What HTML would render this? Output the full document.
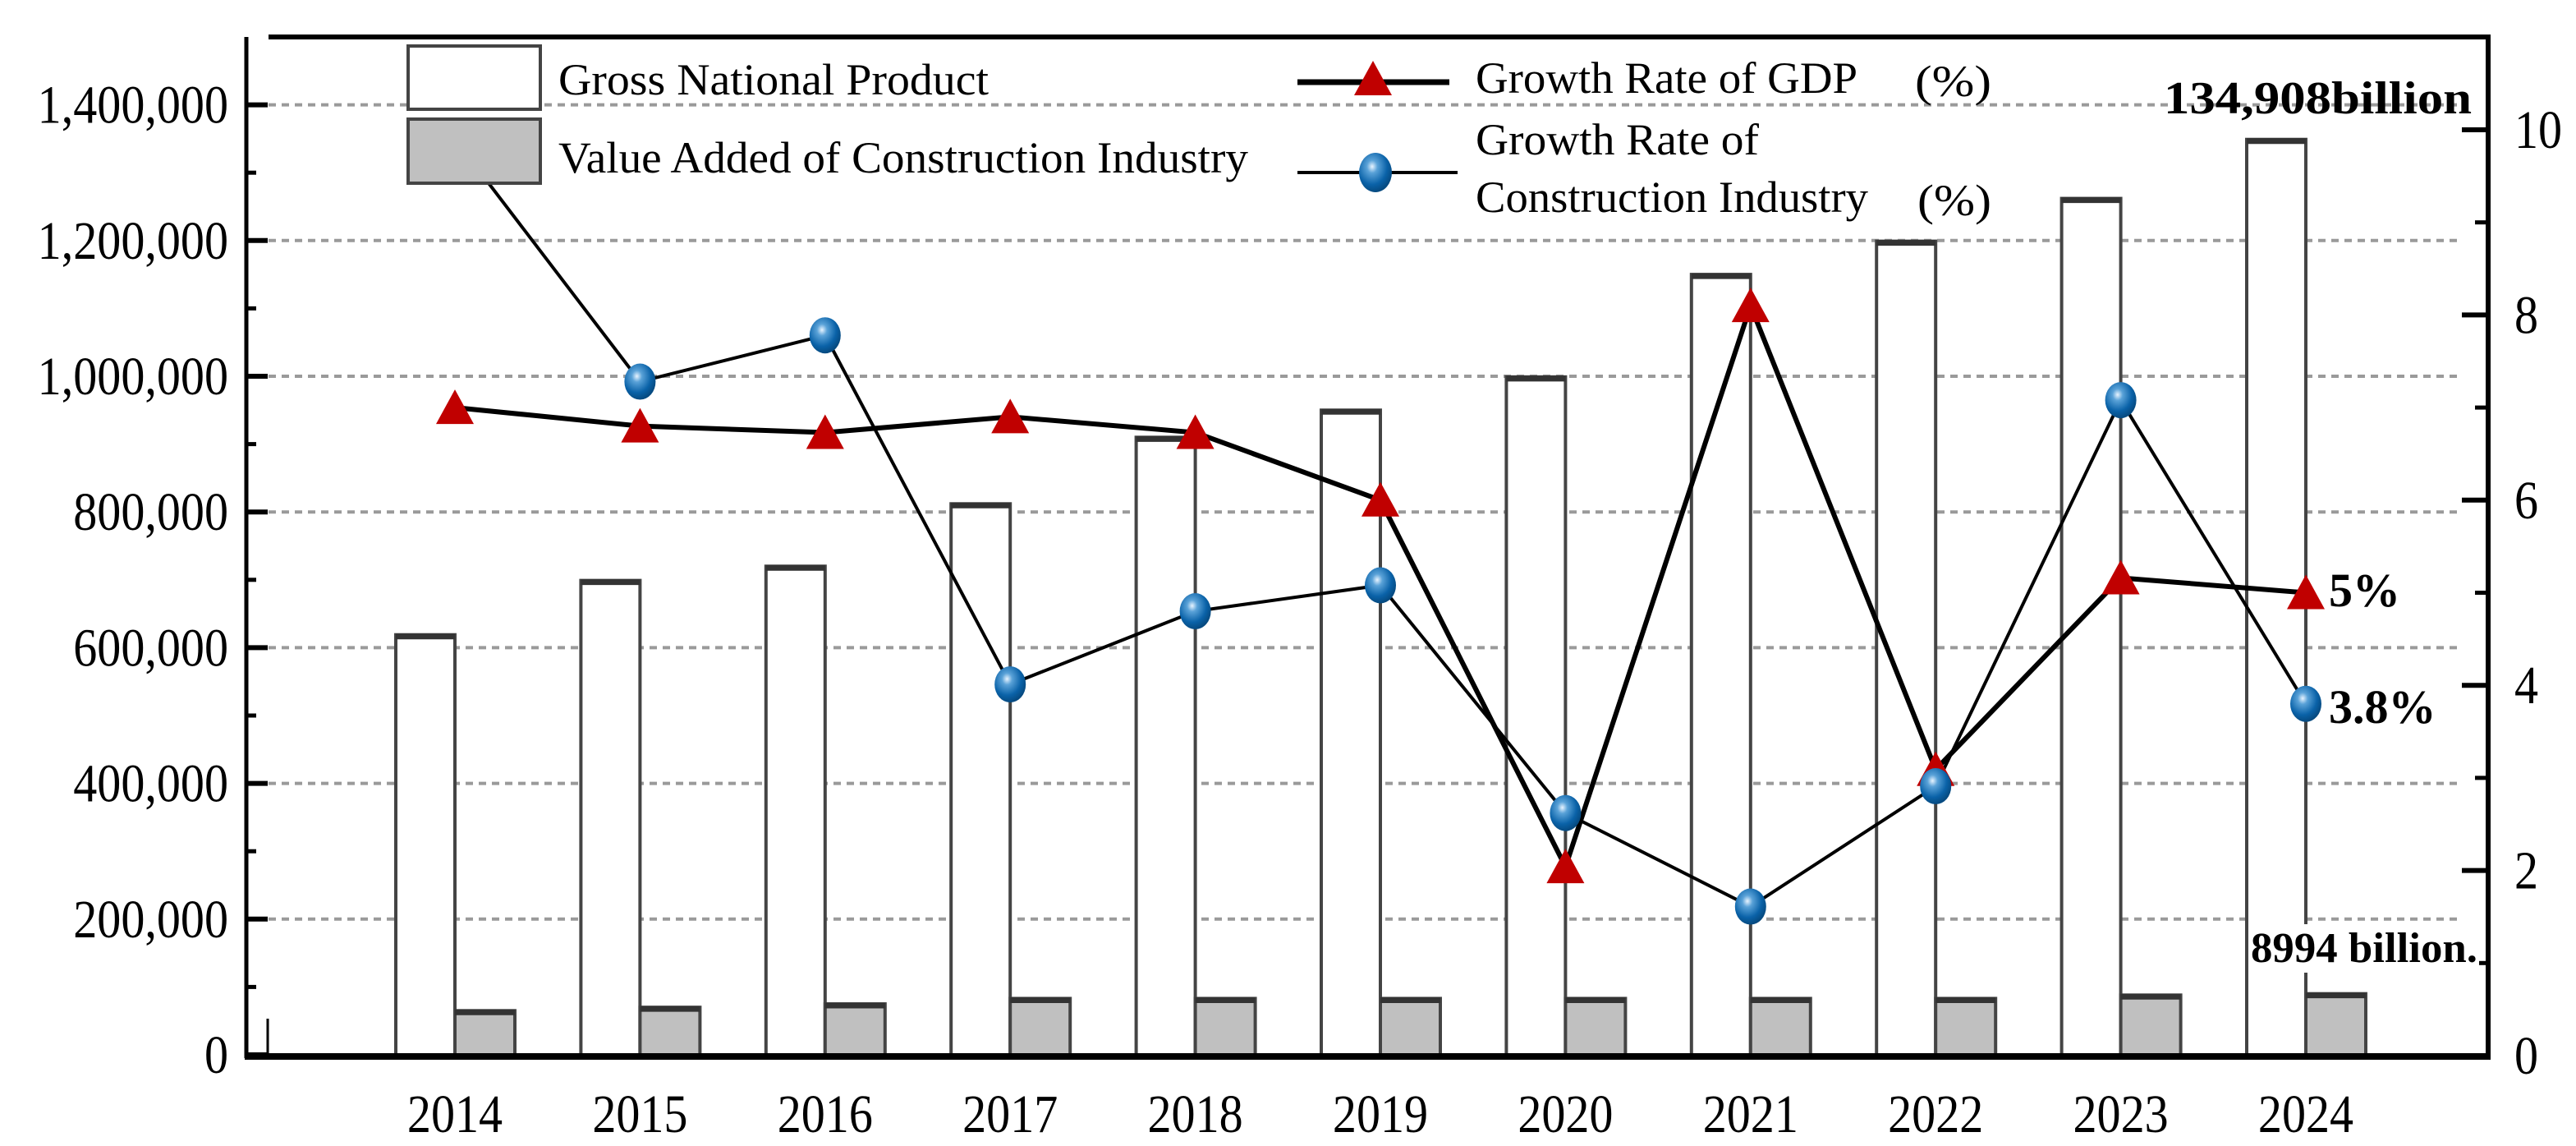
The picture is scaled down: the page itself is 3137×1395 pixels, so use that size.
<!DOCTYPE html>
<html><head><meta charset="utf-8"><style>
html,body{margin:0;padding:0;background:#fff;}
svg{display:block;font-family:"Liberation Serif",serif;}
</style></head><body>
<svg id="chart" width="3137" height="1395" viewBox="0 0 3137 1395" xmlns="http://www.w3.org/2000/svg">
<defs>
<radialGradient id="sphere" cx="0.4" cy="0.35" r="0.65">
<stop offset="0" stop-color="#e8f4ff"/><stop offset="0.25" stop-color="#5aa2d8"/><stop offset="0.7" stop-color="#0a62a8"/><stop offset="1" stop-color="#064a80"/>
</radialGradient>
</defs>
<g id="grid"></g>
<g id="bars"></g>
<g id="lines"></g>
<g id="axes"></g>
<g id="legend">
  <rect x="497" y="56" width="161" height="77" fill="#fff" stroke="#444" stroke-width="4"/>
  <rect x="497" y="145" width="161" height="78" fill="#c0c0c0" stroke="#444" stroke-width="4"/>
  <text x="680" y="115" font-size="54" textLength="524" lengthAdjust="spacingAndGlyphs">Gross National Product</text>
  <text x="680" y="210" font-size="54" textLength="840" lengthAdjust="spacingAndGlyphs">Value Added of Construction Industry</text>
  <line x1="1580" y1="100" x2="1765" y2="100" stroke="#000" stroke-width="7"/>
  <polygon points="1649,116 1695,116 1672,74" fill="#c00000"/>
  <text x="1797" y="113" font-size="54" textLength="465" lengthAdjust="spacingAndGlyphs">Growth Rate of GDP</text>
  <text x="2332" y="117" font-size="54" textLength="93" lengthAdjust="spacingAndGlyphs">(%)</text>
  <line x1="1580" y1="210" x2="1775" y2="210" stroke="#000" stroke-width="4"/>
  <ellipse cx="1675" cy="210" rx="20" ry="24" fill="url(#sphere)"/>
  <text x="1797" y="188" font-size="54" textLength="345" lengthAdjust="spacingAndGlyphs">Growth Rate of</text>
  <text x="1797" y="258" font-size="54" textLength="478" lengthAdjust="spacingAndGlyphs">Construction Industry</text>
  <text x="2335" y="262" font-size="54" textLength="90" lengthAdjust="spacingAndGlyphs">(%)</text>
</g>
<g id="annotations">
  <text x="2635" y="138" font-size="56" font-weight="bold" textLength="375" lengthAdjust="spacingAndGlyphs">134,908billion</text>
  <rect x="2739" y="1125" width="280" height="59" fill="#fff"/>
  <text x="2741" y="1171" font-size="52" font-weight="bold" textLength="276" lengthAdjust="spacingAndGlyphs">8994 billion.</text>
  <text x="2836" y="738" font-size="58" font-weight="bold">5%</text>
  <text x="2836" y="880" font-size="58" font-weight="bold">3.8%</text>
</g>
</svg>
<script>
const years = ["2014","2015","2016","2017","2018","2019","2020","2021","2022","2023","2024"];
const gnp = [619000,699000,720000,812000,910000,950000,999000,1150000,1199000,1262000,1349000];
const construction = [65000,70000,75000,83000,83000,83000,83000,83000,83000,88000,90000];
const gdpGrowth = [7.0,6.8,6.73,6.9,6.73,6.0,2.04,8.1,3.09,5.16,5.0];
const constructionGrowth = [9.9,7.28,7.78,4.01,4.8,5.08,2.62,1.61,2.91,7.08,3.8];
const leftTicks = [0,200000,400000,600000,800000,1000000,1200000,1400000];
const leftTickLabels = ["0","200,000","400,000","600,000","800,000","1,000,000","1,200,000","1,400,000"];
const rightTicks = [0,2,4,6,8,10];

const NS="http://www.w3.org/2000/svg";
function mk(tag,attrs,parent){const e=document.createElementNS(NS,tag);for(const k in attrs)e.setAttribute(k,attrs[k]);parent.appendChild(e);return e;}
function squeeze(t,f){const l=t.getComputedTextLength();if(l>0){t.setAttribute('textLength',l*f);t.setAttribute('lengthAdjust','spacingAndGlyphs');}}
const xC = i => 554 + i*225.4;
const yL = v => 1284 - v/200000*165.2;
const yR = v => 1285 - v*112.7;
const grid=document.getElementById('grid'),bars=document.getElementById('bars'),lines=document.getElementById('lines'),axes=document.getElementById('axes');

leftTicks.forEach((t,i)=>{
  if(t>0){
    const g=mk('line',{x1:327,x2:2998,y1:yL(t),y2:yL(t),stroke:'#9a9a9a','stroke-width':4,'stroke-dasharray':'9 7'},grid);
    
    
  }
  mk('line',{x1:300,x2:326,y1:yL(t),y2:yL(t),stroke:'#000','stroke-width':6},axes);
  if(i<leftTicks.length-1) mk('line',{x1:300,x2:312,y1:yL(t+100000),y2:yL(t+100000),stroke:'#000','stroke-width':5},axes);
  const tx=mk('text',{x:278,y:yL(t)+22,'font-size':66,'text-anchor':'end'},axes);
  tx.textContent=leftTickLabels[i];
  
  
  squeeze(tx,0.88);
});
rightTicks.forEach((t,i)=>{
  mk('line',{x1:2998,x2:3030,y1:yR(t),y2:yR(t),stroke:'#000','stroke-width':6},axes);
  if(i<rightTicks.length-1) mk('line',{x1:3014,x2:3030,y1:yR(t+1),y2:yR(t+1),stroke:'#000','stroke-width':5},axes);
  const tx=mk('text',{x:3062,y:yR(t)+22,'font-size':66},axes);
  tx.textContent=String(t);
  
  
  squeeze(tx,0.88);
});
years.forEach((y,i)=>{
  const c=xC(i);
  const b=mk('rect',{x:c-72,y:yL(gnp[i]),width:72,height:1284-yL(gnp[i]),fill:'#fff',stroke:'#444','stroke-width':4},bars);
  
  
  mk('line',{x1:c-72,x2:c,y1:yL(gnp[i])+2,y2:yL(gnp[i])+2,stroke:'#333','stroke-width':7},bars);
  const g=mk('rect',{x:c,y:yL(construction[i]),width:73,height:1284-yL(construction[i]),fill:'#c0c0c0',stroke:'#444','stroke-width':4},bars);
  
  
  mk('line',{x1:c,x2:c+73,y1:yL(construction[i])+2,y2:yL(construction[i])+2,stroke:'#333','stroke-width':7},bars);
  const tx=mk('text',{x:c,y:1378,'font-size':66,'text-anchor':'middle'},axes);
  tx.textContent=y;
  
  
  squeeze(tx,0.88);
});
const cPts=constructionGrowth.map((v,i)=>xC(i)+','+yR(v)).join(' ');
const cl=mk('polyline',{points:cPts,fill:'none',stroke:'#000','stroke-width':4},lines);


const gPts=gdpGrowth.map((v,i)=>xC(i)+','+yR(v)).join(' ');
const gl=mk('polyline',{points:gPts,fill:'none',stroke:'#000','stroke-width':6},lines);


gdpGrowth.forEach((v,i)=>{
  const x=xC(i),y=yR(v);
  const p=mk('polygon',{points:`${x-23},${y+20} ${x+23},${y+20} ${x},${y-22}`,fill:'#c00000'},lines);
  
  
});
constructionGrowth.forEach((v,i)=>{
  const e=mk('ellipse',{cx:xC(i),cy:yR(v),rx:19,ry:22,fill:'url(#sphere)'},lines);
  
  
});
mk('line',{x1:300,x2:300,y1:45,y2:1288,stroke:'#000','stroke-width':5},axes);
mk('line',{x1:326,x2:326,y1:1240,y2:1284,stroke:'#000','stroke-width':3},axes);
mk('line',{x1:3030,x2:3030,y1:43,y2:1288,stroke:'#000','stroke-width':6},axes);
mk('line',{x1:327,x2:3033,y1:45,y2:45,stroke:'#000','stroke-width':6},axes);
mk('line',{x1:298,x2:3033,y1:1286,y2:1286,stroke:'#000','stroke-width':8},axes);
const svg=document.getElementById('chart');
svg.appendChild(document.getElementById('legend'));
svg.appendChild(document.getElementById('annotations'));
</script>
</body></html>
